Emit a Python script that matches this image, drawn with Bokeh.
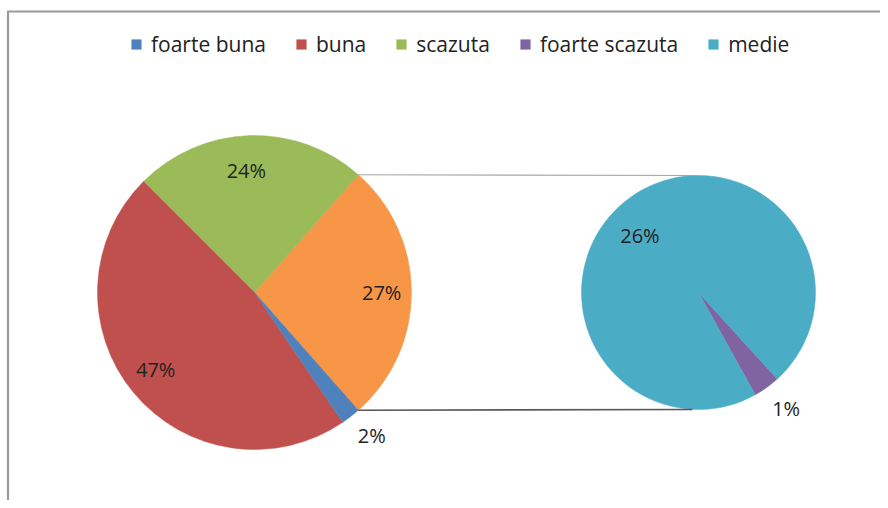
import numpy as np
from bokeh.plotting import figure
from bokeh.models import ColumnDataSource, Legend, LegendItem, Range1d
from bokeh.core.properties import value
from bokeh.embed import file_html
from bokeh.resources import INLINE

# ---- data ----
main_labels = ["foarte buna", "buna", "scazuta"]
main_values = [2, 47, 24]
main_colors = ["#4F81BD", "#C0504D", "#9BBB59"]
sec_labels = ["foarte scazuta", "medie"]
sec_values = [1, 26]
sec_colors = ["#8064A2", "#4BACC6"]
other_color = "#F79646"

# ---- layout ----
W, H = 880, 500
c1 = (254, 216); r1 = 157
c2 = (698, 216); r2 = 117
sec_start_deg = -61.0
FONT = "Open Sans"

p = figure(width=W, height=H, x_range=Range1d(0, W), y_range=Range1d(8, H + 8),
           output_backend="svg", toolbar_location=None, min_border=0)
p.axis.visible = False
p.grid.visible = False
p.outline_line_color = None
p.background_fill_color = "white"

total = sum(main_values) + sum(sec_values)
other = sum(sec_values)
k = 2 * np.pi / total

# main pie, counter-clockwise starting with the "other" slice centred on the right
m_names = ["other"] + main_labels[::-1]
m_vals = np.array([other] + main_values[::-1], dtype=float)
m_cols = [other_color] + main_colors[::-1]
m_end = -other / 2 * k + np.cumsum(m_vals) * k
m_start = m_end - m_vals * k
msrc = ColumnDataSource(dict(start=m_start, end=m_end, color=m_cols, name=m_names))
rm = p.wedge(x=c1[0], y=c1[1], radius=r1, start_angle="start", end_angle="end",
             fill_color="color", line_color="color", line_width=0.5, source=msrc)

# secondary pie
s_vals = np.array(sec_values, dtype=float)
k2 = 2 * np.pi / other
s_end = np.deg2rad(sec_start_deg) + np.cumsum(s_vals) * k2
s_start = s_end - s_vals * k2
ssrc = ColumnDataSource(dict(start=s_start, end=s_end, color=sec_colors, name=sec_labels))
rs = p.wedge(x=c2[0], y=c2[1], radius=r2, start_angle="start", end_angle="end",
             fill_color="color", line_color="color", line_width=0.5, source=ssrc)

# connector lines
a = other / 2 * k
p.segment(x0=[c1[0] + r1 * np.cos(a)], y0=[c1[1] + r1 * np.sin(a)],
          x1=[c2[0]], y1=[c2[1] + r2], line_color="#a6a6a6", line_width=1.2)
p.segment(x0=[c1[0] + r1 * np.cos(-a)], y0=[c1[1] + r1 * np.sin(-a)],
          x1=[c2[0] - 6], y1=[c2[1] - r2], line_color="#595959", line_width=1.6)

# data labels
m_lab_f = {"other": 0.81, "scazuta": 0.78, "buna": 0.80, "foarte buna": 1.18}
m_lab_da = {"other": 0.0, "scazuta": 2.0, "buna": -1.5, "foarte buna": 1.5}
lx, ly, lt = [], [], []
for n, v, s, e in zip(m_names, m_vals, m_start, m_end):
    mid = (s + e) / 2 + np.deg2rad(m_lab_da[n])
    f = m_lab_f[n]
    lx.append(c1[0] + f * r1 * np.cos(mid)); ly.append(c1[1] + f * r1 * np.sin(mid))
    lt.append(f"{round(v / total * 100)}%")
s_lab_f = {"foarte scazuta": 1.24, "medie": 0.70}
s_lab_da = {"foarte scazuta": 1.5, "medie": 10.0}
for n, v, s, e in zip(sec_labels, s_vals, s_start, s_end):
    mid = (s + e) / 2 + np.deg2rad(s_lab_da[n])
    f = s_lab_f[n]
    lx.append(c2[0] + f * r2 * np.cos(mid)); ly.append(c2[1] + f * r2 * np.sin(mid))
    lt.append(f"{round(v / total * 100)}%")
p.text(x=lx, y=ly, text=lt, text_align="center", text_baseline="middle",
       text_font=value(FONT), text_font_size="20px", text_color="#222222")

# frame lines (top and left)
p.line(x=[7.5, 7.5], y=[0, 497], line_color="#9a9a9a", line_width=2.2)
p.line(x=[6.5, W], y=[497, 497], line_color="#9a9a9a", line_width=2.2)

# legend
items = [LegendItem(label=n, renderers=[rm], index=m_names.index(n)) for n in main_labels]
items += [LegendItem(label=n, renderers=[rs], index=i) for i, n in enumerate(sec_labels)]
legend = Legend(items=items, orientation="horizontal", location=(130, 442),
                glyph_width=12, glyph_height=12, label_standoff=9, spacing=29,
                padding=0, margin=0, border_line_color=None, background_fill_alpha=0,
                label_text_font=FONT, label_text_font_size="21px",
                label_text_color="#222222", label_height=20)
p.add_layout(legend, "center")

open("out.html", "w").write(file_html(p, INLINE))
